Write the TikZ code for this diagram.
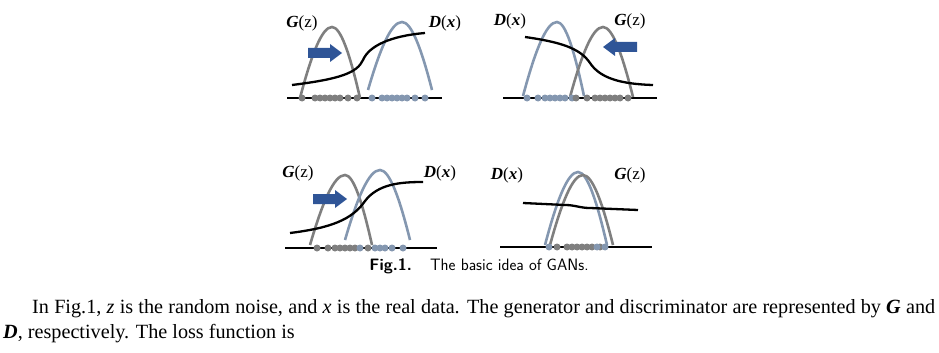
\documentclass[tikz,border=0pt]{standalone}
\usepackage{fontspec}
\setmainfont{Liberation Serif}
\usetikzlibrary{calc}

\definecolor{gbell}{RGB}{127,127,127}
\definecolor{bbell}{RGB}{132,151,176}
\definecolor{arrowblue}{RGB}{47,85,151}

% 山形の分布曲線: 色, 左端x, 頂点x, 右端x, 頂点y, 底y
\newcommand{\bellcurve}[6]{%
  \draw[#1, line width=2.6pt]
    (#2,#6) .. controls ({#2+0.35*(#3-#2)},{#5+0.4*(#6-#5)}) and ({#3-0.32*(#3-#2)},#5) .. (#3,#5)
    .. controls ({#3+0.32*(#4-#3)},#5) and ({#4-0.35*(#4-#3)},{#5+0.4*(#6-#5)}) .. (#4,#6);}

% ブロック矢印: 中心x, 中心y, 向き(1:右, -1:左)
\newcommand{\blockarrow}[3]{%
  \fill[arrowblue] ({#1-17*(#3)},{#2-5}) -- ({#1+5*(#3)},{#2-5}) -- ({#1+5*(#3)},{#2-9})
    -- ({#1+17*(#3)},#2) -- ({#1+5*(#3)},{#2+9}) -- ({#1+5*(#3)},{#2+5})
    -- ({#1-17*(#3)},{#2+5}) -- cycle;}

% ラベル
\newcommand{\Gz}{\textbf{\textit{G}}(z)}
\newcommand{\Dx}{\textbf{\textit{D}}(\textbf{\textit{x}})}

\begin{document}
\begin{tikzpicture}[x=1pt, y=-1pt,
    lbl/.style={inner sep=0, font=\fontsize{17}{19}\selectfont},
    axis/.style={line width=2.3pt},
    dcurve/.style={line width=2.3pt},
    gdot/.style={fill=gbell},
    bdot/.style={fill=bbell}]
    \useasboundingbox (0,0) rectangle (939,353);

    % 左上: 初期状態
    \draw[axis] (287,98) -- (442,98);
    \bellcurve{gbell}{300}{332}{360}{27}{98}
    \bellcurve{bbell}{368}{402}{432}{22}{90}
    \draw[dcurve] (292,85) .. controls (340,79) and (357,73) .. (363,60)
        .. controls (369,46) and (390,36) .. (425,33);
    \foreach \x in {302,315,320,325,330,335,340,348,357}
        \fill[gdot] (\x,98) circle (3.5pt);
    \foreach \x in {372,382,387,392,397,402,407,415,425}
        \fill[bdot] (\x,98) circle (3.5pt);
    \blockarrow{325}{53}{1}
    \node[lbl] (g1) at (302,23) {\Gz};
    \node[lbl] (d1) at (445,23) {\Dx};

    % 右上
    \draw[axis] (503,98) -- (657,98);
    \bellcurve{bbell}{523}{557}{584}{22}{96}
    \bellcurve{gbell}{570}{603}{633}{27}{97}
    \draw[dcurve] (525,37) .. controls (560,42) and (580,48) .. (590,63)
        .. controls (600,78) and (620,84) .. (653,85);
    \foreach \x in {527,538,545,550,555,560,565,572}
        \fill[bdot] (\x,98) circle (3.5pt);
    \foreach \x in {576,587,595,600,605,610,615,620,628}
        \fill[gdot] (\x,98) circle (3.5pt);
    \blockarrow{620}{47}{-1}
    \node[lbl] (d2) at (510,21) {\Dx};
    \node[lbl] (g2) at (630,21) {\Gz};

    % 左下
    \draw[axis] (285,248) -- (437,248);
    \bellcurve{gbell}{310}{345}{372}{175}{245}
    \bellcurve{bbell}{345}{380}{410}{170}{240}
    \draw[dcurve] (290,233) .. controls (330,228) and (352,220) .. (365,201)
        .. controls (378,184) and (400,182) .. (423,182);
    \foreach \x in {317,328,335,340,345,350,355,368}
        \fill[gdot] (\x,248) circle (3.5pt);
    \foreach \x in {360,375,380,385,392,403}
        \fill[bdot] (\x,248) circle (3.5pt);
    \blockarrow{330}{199}{1}
    \node[lbl] (g3) at (298,173) {\Gz};
    \node[lbl] (d3) at (440,173) {\Dx};

    % 右下: 収束状態
    \draw[axis] (500,247) -- (652,247);
    \bellcurve{bbell}{545}{578}{607}{172}{245}
    \bellcurve{gbell}{550}{583}{613}{175}{245}
    \draw[dcurve] (523,203) -- (565,205) .. controls (575,205) and (580,208) .. (590,208)
        -- (638,210);
    \foreach \x in {557,567,572,577,582,587,592,600}
        \fill[gdot] (\x,247) circle (3.5pt);
    \foreach \x in {549,597,605}
        \fill[bdot] (\x,247) circle (3.5pt);
    \node[lbl] (d4) at (507,175) {\Dx};
    \node[lbl] (g4) at (630,175) {\Gz};

    % キャプションと本文
    \node[anchor=base, inner sep=0, font=\sffamily\fontsize{16.5}{19}\selectfont] (cap)
        at (479,270) {\textbf{Fig.1.}\hspace{1.1em}The basic idea of GANs.};
    \node[anchor=base west, inner sep=0, font=\fontsize{20.2}{24}\selectfont] (line1)
        at (32,313) {\makebox[903pt][s]{In Fig.1, \textit{z} is the random noise, and \textit{x} is the real data. The generator and discriminator are represented by \textbf{\textit{G}} and}};
    \node[anchor=base west, inner sep=0, font=\fontsize{20.2}{24}\selectfont] (line2)
        at (3,338) {\textbf{\textit{D}}, respectively. The loss function is};
\end{tikzpicture}
\end{document}
